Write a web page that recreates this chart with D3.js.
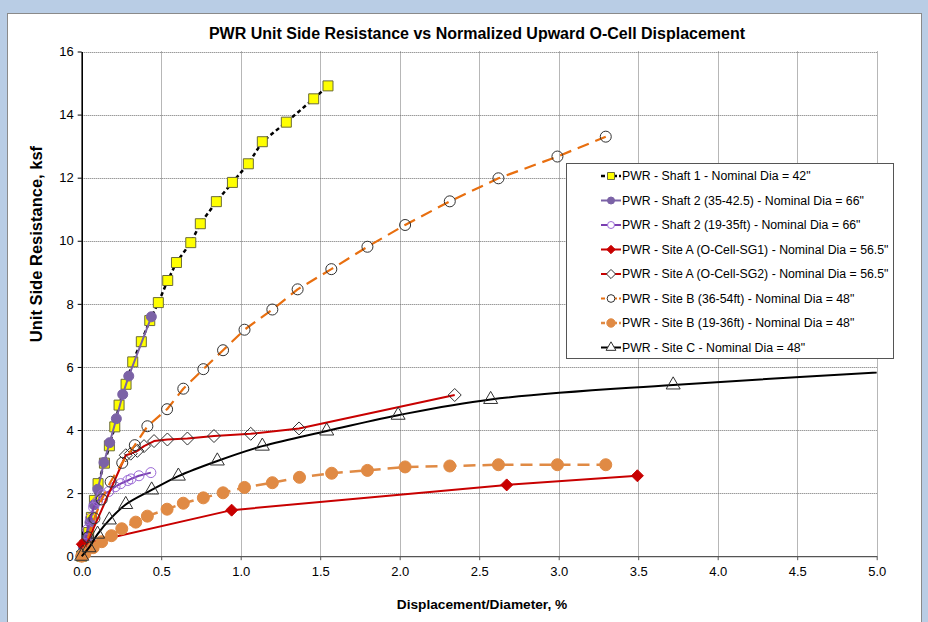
<!DOCTYPE html>
<html>
<head>
<meta charset="utf-8">
<script src="https://cdn.jsdelivr.net/npm/d3@7"></script>
<style>
  html, body { margin: 0; padding: 0; background: #b9cde5; }
  svg { display: block; font-family: "Liberation Sans", Arial, sans-serif; }
</style>
</head>
<body>
<svg id="chart" width="928" height="622"></svg>
<script>
// ---- Data: normalized displacement (%) vs unit side resistance (ksf) ----
const xTickValues = [0, 0.5, 1.0, 1.5, 2.0, 2.5, 3.0, 3.5, 4.0, 4.5, 5.0];
const yTickValues = [0, 2, 4, 6, 8, 10, 12, 14, 16];

const shaft1X = [0, 0.02, 0.044, 0.061, 0.080, 0.103, 0.143, 0.174, 0.208, 0.235, 0.279, 0.321, 0.375, 0.428, 0.482, 0.541, 0.596, 0.686, 0.746, 0.847, 0.948, 1.048, 1.136, 1.287, 1.459, 1.549];
const shaft1Y = [0, 0.35, 0.75, 1.23, 1.77, 2.30, 2.95, 3.50, 4.10, 4.79, 5.45, 6.16, 6.80, 7.47, 8.04, 8.74, 9.31, 9.94, 10.54, 11.24, 11.85, 12.44, 13.14, 13.76, 14.50, 14.91];

const shaft2aX = [0.01, 0.036, 0.052, 0.078, 0.101, 0.140, 0.176, 0.218, 0.258, 0.296, 0.438];
const shaft2aY = [0.30, 0.59, 1.07, 1.63, 2.12, 2.97, 3.60, 4.36, 5.13, 5.71, 7.59];

const shaft2bX = [0.02, 0.036, 0.055, 0.075, 0.10, 0.13, 0.17, 0.21, 0.245, 0.29, 0.31, 0.36, 0.435];
const shaft2bY = [0.40, 0.85, 1.20, 1.55, 1.75, 1.95, 2.05, 2.20, 2.30, 2.40, 2.45, 2.55, 2.65];

const siteASG1X = [0.004, 0.943, 2.673, 3.495];
const siteASG1Y = [0.38, 1.46, 2.26, 2.55];

const siteASG2X = [0.01, 0.277, 0.308, 0.35, 0.392, 0.455, 0.539, 0.665, 0.832, 1.063, 1.367, 2.346];
const siteASG2Y = [0.15, 3.20, 3.25, 3.34, 3.49, 3.65, 3.70, 3.73, 3.81, 3.88, 4.05, 5.11];

const siteBDeepX = [0, 0.04, 0.08, 0.126, 0.182, 0.255, 0.334, 0.413, 0.537, 0.639, 0.765, 0.889, 1.024, 1.199, 1.358, 1.570, 1.797, 2.034, 2.315, 2.621, 2.992, 3.296];
const siteBDeepY = [0, 0.60, 1.20, 1.80, 2.36, 2.96, 3.52, 4.12, 4.66, 5.31, 5.93, 6.53, 7.18, 7.82, 8.46, 9.10, 9.81, 10.50, 11.25, 11.98, 12.67, 13.30];

const siteBShallowX = [0, 0.02, 0.072, 0.126, 0.187, 0.252, 0.340, 0.413, 0.537, 0.639, 0.765, 0.889, 1.024, 1.199, 1.370, 1.572, 1.797, 2.034, 2.315, 2.621, 2.992, 3.296];
const siteBShallowY = [0, 0.08, 0.27, 0.46, 0.65, 0.87, 1.08, 1.27, 1.49, 1.68, 1.85, 2.01, 2.18, 2.33, 2.50, 2.63, 2.72, 2.83, 2.86, 2.90, 2.90, 2.90];

const siteCX = [0, 0.046, 0.10, 0.174, 0.277, 0.44, 0.608, 0.853, 1.136, 1.541, 1.99, 2.572, 3.72, 5.6];
const siteCY = [0, 0.27, 0.70, 1.15, 1.64, 2.10, 2.54, 3.02, 3.49, 3.97, 4.47, 4.97, 5.43, 6.00];

const seriesNames = [
  'PWR - Shaft 1 - Nominal Dia = 42"',
  'PWR - Shaft 2 (35-42.5) - Nominal Dia = 66"',
  'PWR - Shaft 2 (19-35ft) - Nominal Dia = 66"',
  'PWR - Site A (O-Cell-SG1) - Nominal Dia = 56.5"',
  'PWR - Site A (O-Cell-SG2) - Nominal Dia = 56.5"',
  'PWR - Site B (36-54ft) - Nominal Dia = 48"',
  'PWR - Site B (19-36ft) - Nominal Dia = 48"',
  'PWR - Site C - Nominal Dia = 48"'
];

const zip = (xs, ys) => xs.map((x, i) => ({ x, y: ys[i] }));

// Series styling (drawing order = legend order)
const series = [
  { name: seriesNames[0], pts: zip(shaft1X, shaft1Y), line: "#000", width: 2.5, dash: "4,3", curve: d3.curveLinear,
    marker: "square", size: 10, fill: "#ffff00", mstroke: "#6b6b3a" },
  { name: seriesNames[1], pts: zip(shaft2aX, shaft2aY), line: "#7b62a6", width: 2, dash: null, curve: d3.curveLinear,
    marker: "circle", size: 10, fill: "#7b62a6", mstroke: "#7b62a6" },
  { name: seriesNames[2], pts: zip(shaft2bX, shaft2bY), line: "#7a3fb0", width: 2, dash: null, curve: d3.curveLinear,
    marker: "circle", size: 10, fill: "none", mstroke: "#9b6ad6" },
  { name: seriesNames[3], pts: zip(siteASG1X, siteASG1Y), line: "#c80000", width: 2, dash: null, curve: d3.curveLinear,
    marker: "diamond", size: 12, fill: "#c80000", mstroke: "#c80000" },
  { name: seriesNames[4], pts: zip(siteASG2X, siteASG2Y), line: "#c80000", width: 2, dash: null, curve: d3.curveLinear,
    marker: "diamond", size: 13, fill: "none", mstroke: "#303030" },
  { name: seriesNames[5], pts: zip(siteBDeepX, siteBDeepY), line: "#e86f10", width: 2.2, dash: "12,7", curve: d3.curveLinear,
    marker: "circle", size: 11, fill: "none", mstroke: "#303030" },
  { name: seriesNames[6], pts: zip(siteBShallowX, siteBShallowY), line: "#e08a44", width: 2.5, dash: "12,7", curve: d3.curveLinear,
    marker: "circle", size: 12, fill: "#e08a44", mstroke: "#e08a44" },
  { name: seriesNames[7], pts: zip(siteCX, siteCY), line: "#000", width: 2, dash: null, curve: d3.curveCatmullRom.alpha(0.5),
    marker: "triangle", size: 14, fill: "none", mstroke: "#303030" }
];

// ---- Layout ----
const svg = d3.select("#chart");
const plot = { left: 81.7, right: 876.7, top: 51.5, bottom: 556.2 };

// chart area (white panel on the blue sheet)
svg.append("rect").attr("x", 7.5).attr("y", 13.5).attr("width", 914).attr("height", 640)
  .attr("fill", "#fff").attr("stroke", "#8a8a8a").attr("stroke-width", 1);

const x = d3.scaleLinear().domain([0, 5]).range([plot.left, plot.right]);
const y = d3.scaleLinear().domain([0, 16]).range([plot.bottom, plot.top]);

// gridlines
const grid = svg.append("g");
grid.selectAll("line.h").data(yTickValues.filter(v => v > 0)).join("line")
  .attr("x1", plot.left).attr("x2", plot.right)
  .attr("y1", d => Math.round(y(d)) + 0.5).attr("y2", d => Math.round(y(d)) + 0.5)
  .attr("stroke", "#6e6e6e").attr("stroke-width", 1).attr("stroke-dasharray", "1,1");
grid.selectAll("line.v").data(xTickValues.filter(v => v > 0)).join("line")
  .attr("y1", plot.top).attr("y2", plot.bottom)
  .attr("x1", d => Math.round(x(d)) + 0.5).attr("x2", d => Math.round(x(d)) + 0.5)
  .attr("stroke", "#6e6e6e").attr("stroke-width", 1).attr("stroke-dasharray", "1,1");

// axes
const xAxis = d3.axisBottom(x).tickValues(xTickValues).tickFormat(d3.format(".1f")).tickSize(4).tickSizeOuter(0);
const yAxis = d3.axisLeft(y).tickValues(yTickValues).tickFormat(d3.format("d")).tickSize(4).tickSizeOuter(0);

const gx = svg.append("g").attr("transform", `translate(0,${plot.bottom})`).call(xAxis);
gx.select(".domain").attr("stroke", "#555").attr("stroke-width", 1.2);
gx.selectAll(".tick line").attr("stroke", "#555");
gx.selectAll(".tick text").attr("font-size", 13).attr("fill", "#000").attr("dy", "1.0em")
  .attr("font-family", "Liberation Sans, Arial, sans-serif");

const gy = svg.append("g").attr("transform", `translate(${plot.left},0)`).call(yAxis);
gy.select(".domain").attr("stroke", "#000").attr("stroke-width", 1.6);
gy.selectAll(".tick line").attr("stroke", "#000");
gy.selectAll(".tick text").attr("font-size", 13).attr("fill", "#000").attr("x", -8)
  .attr("font-family", "Liberation Sans, Arial, sans-serif");

// clip for series
svg.append("clipPath").attr("id", "plotClip").append("rect")
  .attr("x", plot.left - 8).attr("y", plot.top - 8)
  .attr("width", plot.right - plot.left + 8).attr("height", plot.bottom - plot.top + 16);

const symbolType = {
  square: d3.symbolSquare, circle: d3.symbolCircle, triangle: d3.symbolTriangle
};
// marker outline; size is the approximate marker width in px
function symbolPath(s) {
  const w = s.size;
  if (s.marker === "diamond") {
    const r = w / 2;
    return `M0,${-r}L${r},0L0,${r}L${-r},0Z`;
  }
  let area;
  if (s.marker === "square") area = w * w;
  else if (s.marker === "circle") area = Math.PI * (w / 2) * (w / 2);
  else area = (w * w) * Math.sqrt(3) / 4;
  return d3.symbol().type(symbolType[s.marker]).size(area)();
}

const lineGen = d3.line().x(d => x(d.x)).y(d => y(d.y));
const content = svg.append("g").attr("clip-path", "url(#plotClip)");

series.forEach(s => {
  const g = content.append("g");
  g.append("path").datum(s.pts)
    .attr("d", lineGen.curve(s.curve))
    .attr("fill", "none").attr("stroke", s.line).attr("stroke-width", s.width)
    .attr("stroke-dasharray", s.dash).attr("stroke-linejoin", "round");
  g.selectAll("path.m").data(s.pts.filter(p => p.x <= 5)).join("path").attr("class", "m")
    .attr("transform", p => `translate(${x(p.x)},${y(p.y)})`)
    .attr("d", symbolPath(s))
    .attr("fill", s.fill).attr("stroke", s.mstroke).attr("stroke-width", 1);
});

// legend
const legend = svg.append("g");
const lx = 566.5, ly = 163.5, lw = 327, lh = 195;
legend.append("rect").attr("x", lx).attr("y", ly).attr("width", lw).attr("height", lh)
  .attr("fill", "#fff").attr("stroke", "#555").attr("stroke-width", 1);
series.forEach((s, i) => {
  const cy = 176 + i * 24.5;
  const g = legend.append("g");
  g.append("line").attr("x1", 601).attr("x2", 621).attr("y1", cy).attr("y2", cy)
    .attr("stroke", s.line).attr("stroke-width", s.width).attr("stroke-dasharray", s.dash ? "4,2" : null);
  const ls = Object.assign({}, s, { size: s.size * 0.7 });
  g.append("path").attr("transform", `translate(611,${cy})`).attr("d", symbolPath(ls))
    .attr("fill", s.fill === "none" ? "#fff" : s.fill).attr("stroke", s.mstroke).attr("stroke-width", 1);
  g.append("text").attr("x", 622).attr("y", cy).attr("dy", "0.36em")
    .attr("font-size", 12.3).attr("fill", "#000").text(s.name);
});

// titles
svg.append("text").attr("x", 477).attr("y", 39).attr("text-anchor", "middle")
  .attr("font-size", 16).attr("font-weight", "bold").attr("fill", "#000")
  .text("PWR Unit Side Resistance vs Normalized Upward O-Cell Displacement");
svg.append("text").attr("x", 482).attr("y", 609).attr("text-anchor", "middle")
  .attr("font-size", 13.7).attr("font-weight", "bold").attr("fill", "#000")
  .text("Displacement/Diameter, %");
svg.append("text").attr("transform", "translate(42,244) rotate(-90)").attr("text-anchor", "middle")
  .attr("font-size", 16.5).attr("font-weight", "bold").attr("fill", "#000")
  .text("Unit Side Resistance, ksf");
</script>
</body>
</html>
